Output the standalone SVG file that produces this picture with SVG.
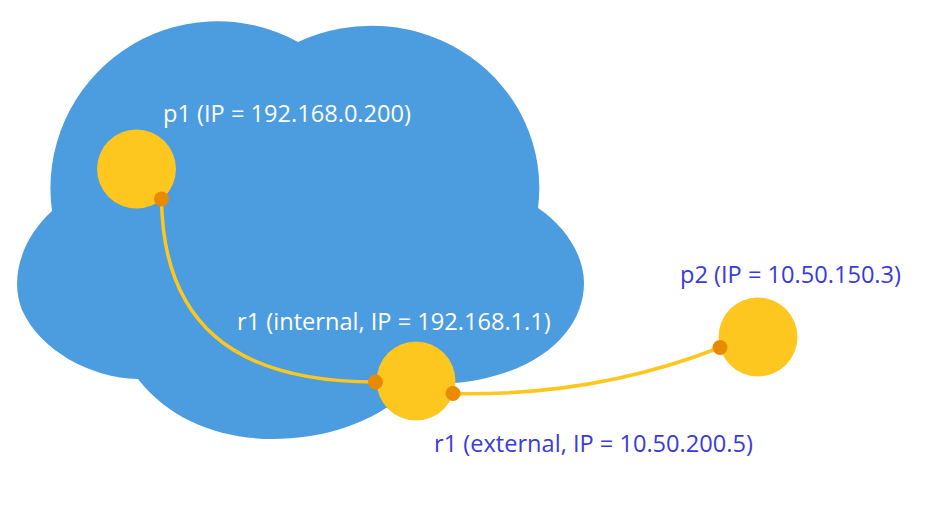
<svg xmlns="http://www.w3.org/2000/svg" width="926" height="518" viewBox="0 0 926 518">
<style>
.lbl{font-family:"Open Sans","Noto Sans",sans-serif;font-size:23.6px}
.w{fill:#ffffff}
.b{fill:#3a3adb}
.node{fill:#fec71f}
.dot{fill:#e98b00}
.edge{fill:none;stroke:#fec71f;stroke-width:3.5}
</style>
<rect width="926" height="518" fill="#ffffff"/>
<g id="cloud">
<path fill="#4c9ce0" d="M298,42 A168 162 0 0 1 538,208 C565,226 584,255 584,283 C584,330 540,375 455,383 L420,400 L386,408 C360,425 320,439 273,439 C220,439 170,420 138,379 C90,378 40,350 22,310 C10,280 20,240 52,211 A167 167 0 0 1 298,42 Z"/>
</g>
<g id="connectors">
<path class="edge" d="M161.5,199 C163,320 230,382 375.5,382"/>
<path class="edge" d="M453,393.5 C560,396 650,375 720,347.5"/>
</g>
<g id="p1">
<circle class="node" cx="136.5" cy="169" r="39.5"/>
<circle class="dot" cx="161.5" cy="199" r="7.5"/>
<text class="lbl w" x="163" y="122">p1 (IP = 192.168.0.200)</text>
</g>
<g id="r1">
<circle class="node" cx="416" cy="381" r="39.5"/>
<circle class="dot" cx="375.5" cy="382" r="7.5"/>
<circle class="dot" cx="453" cy="393.5" r="7.5"/>
<text class="lbl w" x="237" y="330">r1 (internal, IP = 192.168.1.1)</text>
<text class="lbl b" x="434" y="452">r1 (external, IP = 10.50.200.5)</text>
</g>
<g id="p2">
<circle class="node" cx="758" cy="337" r="39.5"/>
<circle class="dot" cx="720" cy="347.5" r="7.5"/>
<text class="lbl b" x="680" y="283">p2 (IP = 10.50.150.3)</text>
</g>
</svg>
